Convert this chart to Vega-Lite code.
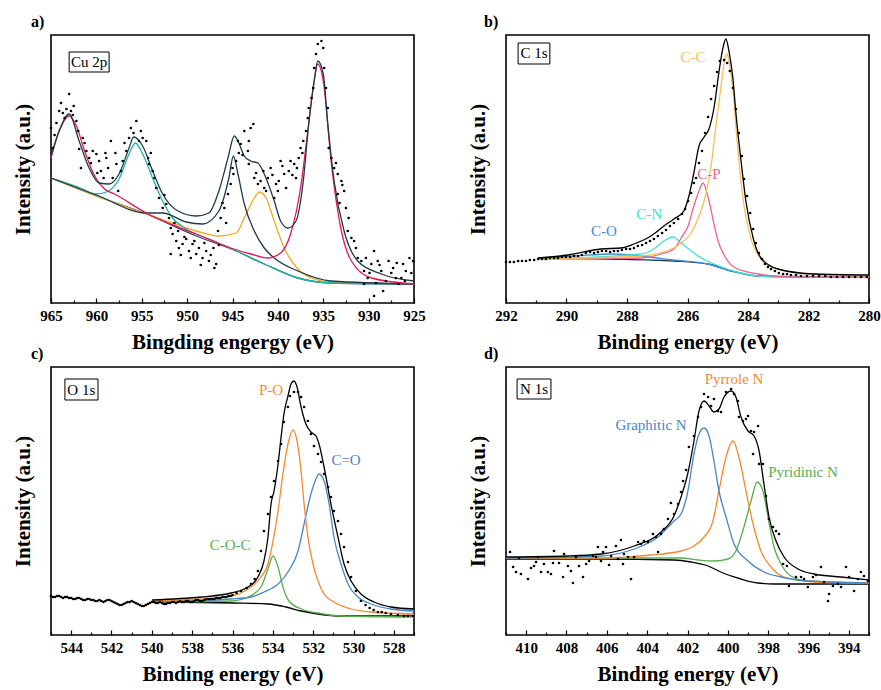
{
"$schema":"https://vega.github.io/schema/vega-lite/v6.json",
"padding":{"left":11,"top":13,"right":5,"bottom":5},
"config":{
 "font":"'Liberation Serif', 'Times New Roman', Times, 'DejaVu Serif', serif",
 "view":{"stroke":"black","strokeWidth":1.6},
 "axis":{"labelFont":"'Liberation Serif', 'Times New Roman', Times, 'DejaVu Serif', serif","labelFontWeight":"bold","labelFontSize":15,"labelColor":"black","titleFont":"'Liberation Serif', 'Times New Roman', Times, 'DejaVu Serif', serif","titleFontWeight":"bold","titleFontSize":21,"titleColor":"black","grid":false,"domain":false},
 "axisX":{"tickColor":"black","tickWidth":1.2,"labelPadding":10,"titlePadding":8,"labelFlush":false,"format":"d"},
 "axisY":{"labels":false,"ticks":false,"titlePadding":18},
 "title":{"font":"'Liberation Serif', 'Times New Roman', Times, 'DejaVu Serif', serif","fontSize":16,"fontWeight":"bold","anchor":"start","frame":"group","offset":5,"color":"black"},
 "line":{"strokeWidth":1.3,"interpolate":"monotone"},
 "point":{"filled":true,"size":7,"color":"black","opacity":1},
 "text":{"font":"'Liberation Serif', 'Times New Roman', Times, 'DejaVu Serif', serif","fontSize":15,"align":"center","baseline":"middle"}
},
"datasets":{
 "aLines":[
  {"c":"abg","x":965,"y":125},{"c":"abg","x":960,"y":107},{"c":"abg","x":954.5,"y":89},{"c":"abg","x":949,"y":67},{"c":"abg","x":944.6,"y":52},{"c":"abg","x":941.5,"y":39},{"c":"abg","x":937.8,"y":25},{"c":"abg","x":934.1,"y":20},{"c":"abg","x":925,"y":19},
  {"c":"aorange","x":965,"y":125},{"c":"aorange","x":960,"y":107},{"c":"aorange","x":954.5,"y":89},{"c":"aorange","x":952.9,"y":84},{"c":"aorange","x":949,"y":72},{"c":"aorange","x":946.5,"y":67},{"c":"aorange","x":944.6,"y":70},{"c":"aorange","x":943.7,"y":85},{"c":"aorange","x":942.6,"y":105},{"c":"aorange","x":942,"y":111},{"c":"aorange","x":941.3,"y":105},{"c":"aorange","x":940.4,"y":82},{"c":"aorange","x":939.3,"y":55},{"c":"aorange","x":937.8,"y":34},{"c":"aorange","x":936,"y":24},{"c":"aorange","x":934.1,"y":21},{"c":"aorange","x":925,"y":19},
  {"c":"ateal","x":965,"y":125},{"c":"ateal","x":962,"y":116},{"c":"ateal","x":960,"y":109},{"c":"ateal","x":958.9,"y":111},{"c":"ateal","x":957.5,"y":124},{"c":"ateal","x":956.4,"y":149},{"c":"ateal","x":955.7,"y":160},{"c":"ateal","x":954.9,"y":149},{"c":"ateal","x":953.8,"y":125},{"c":"ateal","x":952.7,"y":102},{"c":"ateal","x":951.6,"y":85},{"c":"ateal","x":950.1,"y":74},{"c":"ateal","x":947,"y":62},{"c":"ateal","x":944.6,"y":52},{"c":"ateal","x":941.5,"y":39},{"c":"ateal","x":937.8,"y":25},{"c":"ateal","x":934.1,"y":20},{"c":"ateal","x":925,"y":19},
  {"c":"adark","x":965,"y":125},{"c":"adark","x":960,"y":108},{"c":"adark","x":954.5,"y":90},{"c":"adark","x":952.7,"y":90},{"c":"adark","x":950.1,"y":81},{"c":"adark","x":948.3,"y":79},{"c":"adark","x":946.5,"y":92},{"c":"adark","x":945.4,"y":125},{"c":"adark","x":944.9,"y":147},{"c":"adark","x":944.4,"y":129},{"c":"adark","x":943.7,"y":99},{"c":"adark","x":942.6,"y":72},{"c":"adark","x":941.5,"y":55},{"c":"adark","x":940.4,"y":45},{"c":"adark","x":937.8,"y":32},{"c":"adark","x":934.1,"y":22},{"c":"adark","x":925,"y":19},
  {"c":"apink","x":965,"y":145},{"c":"apink","x":964.1,"y":172},{"c":"apink","x":963,"y":187},{"c":"apink","x":962.2,"y":177},{"c":"apink","x":961.3,"y":152},{"c":"apink","x":960.3,"y":129},{"c":"apink","x":959.1,"y":114},{"c":"apink","x":958,"y":109},{"c":"apink","x":954.5,"y":90},{"c":"apink","x":949,"y":69},{"c":"apink","x":945.2,"y":55},{"c":"apink","x":943,"y":49},{"c":"apink","x":941.1,"y":45},{"c":"apink","x":939.7,"y":50},{"c":"apink","x":938.6,"y":69},{"c":"apink","x":937.5,"y":115},{"c":"apink","x":936.7,"y":172},{"c":"apink","x":936,"y":222},{"c":"apink","x":935.6,"y":239},{"c":"apink","x":935,"y":222},{"c":"apink","x":934.1,"y":139},{"c":"apink","x":933,"y":72},{"c":"apink","x":931.9,"y":42},{"c":"apink","x":929.7,"y":25},{"c":"apink","x":925,"y":19},
  {"c":"aenv","x":965,"y":147},{"c":"aenv","x":964.1,"y":172},{"c":"aenv","x":963,"y":189},{"c":"aenv","x":961.9,"y":162},{"c":"aenv","x":960.8,"y":135},{"c":"aenv","x":959.7,"y":120},{"c":"aenv","x":958.6,"y":119},{"c":"aenv","x":957.5,"y":129},{"c":"aenv","x":956.4,"y":155},{"c":"aenv","x":955.9,"y":166},{"c":"aenv","x":954.9,"y":157},{"c":"aenv","x":953.8,"y":132},{"c":"aenv","x":952.7,"y":109},{"c":"aenv","x":951,"y":92},{"c":"aenv","x":949,"y":87},{"c":"aenv","x":947.6,"y":90},{"c":"aenv","x":946.5,"y":112},{"c":"aenv","x":945.5,"y":145},{"c":"aenv","x":944.8,"y":167},{"c":"aenv","x":944.4,"y":162},{"c":"aenv","x":943.7,"y":147},{"c":"aenv","x":943,"y":142},{"c":"aenv","x":942.2,"y":140},{"c":"aenv","x":941.5,"y":129},{"c":"aenv","x":940.4,"y":102},{"c":"aenv","x":939.7,"y":82},{"c":"aenv","x":938.9,"y":75},{"c":"aenv","x":938,"y":82},{"c":"aenv","x":937.2,"y":122},{"c":"aenv","x":936.6,"y":179},{"c":"aenv","x":936,"y":222},{"c":"aenv","x":935.6,"y":242},{"c":"aenv","x":935,"y":229},{"c":"aenv","x":934.5,"y":179},{"c":"aenv","x":933.8,"y":122},{"c":"aenv","x":932.7,"y":72},{"c":"aenv","x":931.2,"y":42},{"c":"aenv","x":928.6,"y":29},{"c":"aenv","x":925,"y":22}
 ],
 "aPts":[
  {"x":965.0,"y":175},{"x":964.8,"y":155},{"x":964.4,"y":180},{"x":964.1,"y":192},{"x":963.7,"y":190},{"x":963.3,"y":194},{"x":963.0,"y":209},{"x":962.8,"y":192},{"x":962.5,"y":197},{"x":962.2,"y":182},{"x":962.0,"y":172},{"x":961.9,"y":154},{"x":961.5,"y":165},{"x":961.1,"y":152},{"x":961.7,"y":135},{"x":960.8,"y":145},{"x":960.4,"y":152},{"x":960.0,"y":149},{"x":959.7,"y":142},{"x":959.5,"y":132},{"x":959.2,"y":125},{"x":958.9,"y":145},{"x":958.4,"y":162},{"x":958.2,"y":125},{"x":957.8,"y":139},{"x":957.6,"y":112},{"x":957.3,"y":132},{"x":957.1,"y":142},{"x":956.7,"y":152},{"x":956.4,"y":165},{"x":955.9,"y":170},{"x":955.6,"y":182},{"x":955.3,"y":162},{"x":954.9,"y":165},{"x":954.5,"y":162},{"x":954.3,"y":145},{"x":954.2,"y":139},{"x":953.8,"y":132},{"x":953.4,"y":115},{"x":953.1,"y":105},{"x":952.7,"y":95},{"x":952.3,"y":99},{"x":952.0,"y":85},{"x":951.8,"y":75},{"x":951.6,"y":69},{"x":951.2,"y":62},{"x":951.0,"y":72},{"x":951.8,"y":49},{"x":950.9,"y":55},{"x":950.5,"y":59},{"x":950.1,"y":64},{"x":949.8,"y":52},{"x":949.4,"y":59},{"x":949.0,"y":49},{"x":948.7,"y":55},{"x":948.3,"y":45},{"x":947.9,"y":52},{"x":947.6,"y":42},{"x":947.1,"y":55},{"x":946.8,"y":39},{"x":946.6,"y":72},{"x":946.3,"y":85},{"x":945.9,"y":95},{"x":945.5,"y":109},{"x":945.2,"y":119},{"x":944.9,"y":129},{"x":944.6,"y":142},{"x":944.4,"y":162},{"x":944.1,"y":159},{"x":943.7,"y":172},{"x":943.3,"y":152},{"x":943.2,"y":162},{"x":943.0,"y":175},{"x":942.7,"y":179},{"x":943.2,"y":139},{"x":942.6,"y":125},{"x":942.2,"y":119},{"x":941.9,"y":122},{"x":941.6,"y":132},{"x":941.5,"y":115},{"x":941.1,"y":125},{"x":940.8,"y":135},{"x":940.4,"y":105},{"x":940.2,"y":119},{"x":939.9,"y":122},{"x":939.7,"y":142},{"x":939.3,"y":129},{"x":939.1,"y":115},{"x":938.8,"y":132},{"x":938.6,"y":142},{"x":938.2,"y":139},{"x":938.0,"y":125},{"x":937.7,"y":145},{"x":937.5,"y":155},{"x":937.2,"y":162},{"x":936.9,"y":172},{"x":936.7,"y":185},{"x":936.6,"y":195},{"x":936.3,"y":205},{"x":936.1,"y":215},{"x":936.0,"y":235},{"x":935.8,"y":249},{"x":935.6,"y":259},{"x":935.2,"y":262},{"x":935.0,"y":255},{"x":934.9,"y":235},{"x":934.7,"y":215},{"x":934.5,"y":195},{"x":934.4,"y":155},{"x":934.1,"y":145},{"x":933.8,"y":135},{"x":933.4,"y":129},{"x":933.0,"y":122},{"x":933.4,"y":109},{"x":932.7,"y":112},{"x":932.5,"y":95},{"x":932.2,"y":85},{"x":932.3,"y":72},{"x":931.9,"y":65},{"x":931.6,"y":62},{"x":931.2,"y":45},{"x":930.8,"y":42},{"x":930.5,"y":32},{"x":930.1,"y":25},{"x":929.7,"y":39},{"x":929.4,"y":52},{"x":929.0,"y":42},{"x":928.6,"y":32},{"x":928.4,"y":12},{"x":928.1,"y":22},{"x":927.8,"y":42},{"x":927.3,"y":35},{"x":927.0,"y":25},{"x":926.7,"y":19},{"x":926.2,"y":39},{"x":925.9,"y":32},{"x":925.5,"y":45},{"x":925.1,"y":42},{"x":926.4,"y":25},{"x":929.4,"y":7},{"x":930.5,"y":19},
  {"x":964.6,"y":168},{"x":963.9,"y":200},{"x":963.5,"y":185},{"x":962.6,"y":188},{"x":961.3,"y":160},{"x":960.6,"y":140},{"x":959.9,"y":130},{"x":959.0,"y":150},{"x":958.7,"y":135},{"x":957.9,"y":150},{"x":956.9,"y":160},{"x":956.2,"y":175},{"x":955.1,"y":172},{"x":954.0,"y":150},{"x":953.6,"y":125},{"x":952.5,"y":108},{"x":951.4,"y":80},{"x":950.7,"y":48},{"x":950.3,"y":66},{"x":949.6,"y":45},{"x":949.2,"y":62},{"x":948.5,"y":38},{"x":948.1,"y":60},{"x":947.4,"y":48},{"x":947.0,"y":35},{"x":946.5,"y":58},{"x":946.1,"y":100},{"x":945.7,"y":80},{"x":945.0,"y":135},{"x":944.3,"y":150},{"x":943.9,"y":148},{"x":942.4,"y":130},{"x":941.3,"y":112},{"x":940.6,"y":128},{"x":940.0,"y":112},{"x":939.5,"y":137},{"x":938.4,"y":128},{"x":937.9,"y":135},{"x":937.3,"y":150},{"x":933.6,"y":140},{"x":933.2,"y":100},{"x":932.9,"y":118},{"x":931.4,"y":55},{"x":930.3,"y":45},{"x":929.9,"y":30},{"x":929.2,"y":20},{"x":928.8,"y":38},{"x":927.5,"y":30},{"x":926.9,"y":40},{"x":926.0,"y":22},{"x":925.3,"y":30}
 ],
 "bLines":[
  {"c":"bbg","x":290.94,"y":45},{"c":"bbg","x":288.63,"y":44},{"c":"bbg","x":286.45,"y":42},{"c":"bbg","x":285.32,"y":39},{"c":"bbg","x":284.56,"y":32},{"c":"bbg","x":283.67,"y":27},{"c":"bbg","x":282.02,"y":26},{"c":"bbg","x":280,"y":26},
  {"c":"bCO","x":290.94,"y":45},{"c":"bCO","x":289.75,"y":47},{"c":"bCO","x":288.43,"y":49},{"c":"bCO","x":287.31,"y":46},{"c":"bCO","x":286.45,"y":43},{"c":"bCO","x":285.32,"y":39},{"c":"bCO","x":284.56,"y":32},{"c":"bCO","x":283.67,"y":27},{"c":"bCO","x":280,"y":26},
  {"c":"bCN","x":290.94,"y":44},{"c":"bCN","x":287.54,"y":49},{"c":"bCN","x":287.11,"y":54},{"c":"bCN","x":286.78,"y":62},{"c":"bCN","x":286.48,"y":66},{"c":"bCN","x":286.21,"y":60},{"c":"bCN","x":285.88,"y":52},{"c":"bCN","x":285.65,"y":47},{"c":"bCN","x":285.12,"y":39},{"c":"bCN","x":284.23,"y":30},{"c":"bCN","x":283.14,"y":26},{"c":"bCN","x":280,"y":26},
  {"c":"bCP","x":290.94,"y":44},{"c":"bCP","x":287.54,"y":45},{"c":"bCP","x":286.88,"y":49},{"c":"bCP","x":286.45,"y":54},{"c":"bCP","x":286.21,"y":65},{"c":"bCP","x":285.98,"y":77},{"c":"bCP","x":285.79,"y":97},{"c":"bCP","x":285.62,"y":112},{"c":"bCP","x":285.49,"y":120},{"c":"bCP","x":285.32,"y":106},{"c":"bCP","x":285.16,"y":84},{"c":"bCP","x":284.99,"y":62},{"c":"bCP","x":284.79,"y":48},{"c":"bCP","x":284.47,"y":36},{"c":"bCP","x":283.67,"y":29},{"c":"bCP","x":282.58,"y":26},{"c":"bCP","x":280,"y":26},
  {"c":"bCC","x":290.94,"y":44},{"c":"bCC","x":287.54,"y":47},{"c":"bCC","x":286.45,"y":55},{"c":"bCC","x":286.21,"y":60},{"c":"bCC","x":285.88,"y":70},{"c":"bCC","x":285.62,"y":87},{"c":"bCC","x":285.45,"y":102},{"c":"bCC","x":285.22,"y":137},{"c":"bCC","x":285.06,"y":177},{"c":"bCC","x":284.89,"y":217},{"c":"bCC","x":284.76,"y":245},{"c":"bCC","x":284.69,"y":249},{"c":"bCC","x":284.63,"y":242},{"c":"bCC","x":284.5,"y":214},{"c":"bCC","x":284.4,"y":177},{"c":"bCC","x":284.3,"y":142},{"c":"bCC","x":284.13,"y":97},{"c":"bCC","x":283.9,"y":64},{"c":"bCC","x":283.57,"y":44},{"c":"bCC","x":283.14,"y":35},{"c":"bCC","x":282.25,"y":30},{"c":"bCC","x":280,"y":27},
  {"c":"benv","x":290.94,"y":45},{"c":"benv","x":289.95,"y":48},{"c":"benv","x":288.86,"y":54},{"c":"benv","x":288.2,"y":55},{"c":"benv","x":287.77,"y":59},{"c":"benv","x":287.21,"y":67},{"c":"benv","x":286.78,"y":77},{"c":"benv","x":286.45,"y":84},{"c":"benv","x":286.12,"y":92},{"c":"benv","x":285.98,"y":104},{"c":"benv","x":285.79,"y":130},{"c":"benv","x":285.62,"y":157},{"c":"benv","x":285.45,"y":166},{"c":"benv","x":285.29,"y":174},{"c":"benv","x":285.12,"y":196},{"c":"benv","x":284.96,"y":231},{"c":"benv","x":284.83,"y":255},{"c":"benv","x":284.73,"y":264},{"c":"benv","x":284.63,"y":252},{"c":"benv","x":284.5,"y":225},{"c":"benv","x":284.4,"y":190},{"c":"benv","x":284.23,"y":142},{"c":"benv","x":284.07,"y":102},{"c":"benv","x":283.83,"y":65},{"c":"benv","x":283.57,"y":45},{"c":"benv","x":283.01,"y":34},{"c":"benv","x":281.82,"y":29},{"c":"benv","x":280,"y":28}
 ],
 "bPts":[
  {"x":292.00,"y":41},{"x":291.87,"y":41},{"x":291.74,"y":41},{"x":291.60,"y":42},{"x":291.47,"y":42},{"x":291.34,"y":42},{"x":291.21,"y":43},{"x":291.07,"y":43},{"x":290.94,"y":44},{"x":290.81,"y":44},{"x":290.68,"y":44},{"x":290.55,"y":45},{"x":290.41,"y":45},{"x":290.28,"y":45},{"x":290.15,"y":46},{"x":290.02,"y":46},{"x":289.88,"y":46},{"x":289.75,"y":47},{"x":289.62,"y":47},{"x":289.49,"y":48},{"x":289.36,"y":50},{"x":289.22,"y":51},{"x":289.09,"y":50},{"x":288.96,"y":51},{"x":288.83,"y":52},{"x":288.69,"y":52},{"x":288.56,"y":51},{"x":288.43,"y":52},{"x":288.30,"y":52},{"x":288.17,"y":53},{"x":288.03,"y":54},{"x":287.90,"y":54},{"x":287.77,"y":55},{"x":287.64,"y":57},{"x":287.50,"y":58},{"x":287.37,"y":60},{"x":287.24,"y":62},{"x":287.11,"y":64},{"x":286.98,"y":67},{"x":286.84,"y":70},{"x":286.71,"y":73},{"x":286.58,"y":77},{"x":286.45,"y":80},{"x":286.31,"y":84},{"x":286.18,"y":89},{"x":286.08,"y":94},{"x":285.98,"y":102},{"x":285.88,"y":110},{"x":285.79,"y":120},{"x":285.72,"y":125},{"x":285.62,"y":140},{"x":285.52,"y":152},{"x":285.42,"y":170},{"x":285.32,"y":186},{"x":285.22,"y":204},{"x":285.12,"y":217},{"x":285.02,"y":231},{"x":284.93,"y":242},{"x":284.79,"y":243},{"x":284.69,"y":240},{"x":284.60,"y":232},{"x":284.50,"y":215},{"x":284.40,"y":194},{"x":284.30,"y":170},{"x":284.20,"y":147},{"x":284.13,"y":124},{"x":284.03,"y":107},{"x":283.93,"y":90},{"x":283.83,"y":74},{"x":283.74,"y":60},{"x":283.64,"y":50},{"x":283.54,"y":44},{"x":283.44,"y":39},{"x":283.34,"y":36},{"x":283.24,"y":34},{"x":283.11,"y":32},{"x":282.98,"y":30},{"x":282.84,"y":29},{"x":282.71,"y":29},{"x":282.58,"y":28},{"x":282.41,"y":28},{"x":282.25,"y":27},{"x":282.05,"y":27},{"x":281.85,"y":27},{"x":281.65,"y":27},{"x":281.45,"y":27},{"x":281.26,"y":26},{"x":281.06,"y":26},{"x":280.86,"y":26},{"x":280.66,"y":26},{"x":280.46,"y":26},{"x":280.26,"y":26},{"x":280.07,"y":26}
 ],
 "cLines":[
  {"c":"cbg","x":539.99,"y":33},{"c":"cbg","x":535.93,"y":32},{"c":"cbg","x":534.24,"y":31},{"c":"cbg","x":533.35,"y":28},{"c":"cbg","x":532.6,"y":24},{"c":"cbg","x":531.76,"y":21},{"c":"cbg","x":530.62,"y":19},{"c":"cbg","x":527,"y":19},
  {"c":"cCOC","x":539.99,"y":33},{"c":"cCOC","x":536.07,"y":34},{"c":"cCOC","x":535.23,"y":38},{"c":"cCOC","x":534.59,"y":48},{"c":"cCOC","x":534.24,"y":66},{"c":"cCOC","x":533.99,"y":79},{"c":"cCOC","x":533.74,"y":68},{"c":"cCOC","x":533.5,"y":48},{"c":"cCOC","x":533.2,"y":34},{"c":"cCOC","x":532.6,"y":26},{"c":"cCOC","x":531.76,"y":22},{"c":"cCOC","x":530.62,"y":19},{"c":"cCOC","x":527,"y":18},
  {"c":"cCO","x":539.99,"y":33},{"c":"cCO","x":536.07,"y":36},{"c":"cCO","x":535.08,"y":38},{"c":"cCO","x":534.44,"y":43},{"c":"cCO","x":533.74,"y":51},{"c":"cCO","x":533.25,"y":63},{"c":"cCO","x":532.75,"y":84},{"c":"cCO","x":532.45,"y":111},{"c":"cCO","x":532.11,"y":141},{"c":"cCO","x":531.86,"y":156},{"c":"cCO","x":531.71,"y":161},{"c":"cCO","x":531.46,"y":154},{"c":"cCO","x":531.21,"y":131},{"c":"cCO","x":530.97,"y":98},{"c":"cCO","x":530.62,"y":71},{"c":"cCO","x":530.22,"y":49},{"c":"cCO","x":529.78,"y":38},{"c":"cCO","x":529.13,"y":31},{"c":"cCO","x":528.14,"y":26},{"c":"cCO","x":527,"y":24},
  {"c":"cPO","x":539.99,"y":34},{"c":"cPO","x":537.56,"y":36},{"c":"cPO","x":536.07,"y":39},{"c":"cPO","x":535.23,"y":46},{"c":"cPO","x":534.59,"y":58},{"c":"cPO","x":534.24,"y":71},{"c":"cPO","x":533.99,"y":94},{"c":"cPO","x":533.74,"y":124},{"c":"cPO","x":533.5,"y":161},{"c":"cPO","x":533.25,"y":191},{"c":"cPO","x":533.0,"y":205},{"c":"cPO","x":532.8,"y":194},{"c":"cPO","x":532.6,"y":164},{"c":"cPO","x":532.45,"y":131},{"c":"cPO","x":532.26,"y":98},{"c":"cPO","x":532.01,"y":71},{"c":"cPO","x":531.76,"y":54},{"c":"cPO","x":531.46,"y":41},{"c":"cPO","x":530.97,"y":33},{"c":"cPO","x":530.12,"y":26},{"c":"cPO","x":529.13,"y":23},{"c":"cPO","x":527,"y":21},
  {"c":"cenv","x":539.99,"y":35},{"c":"cenv","x":537.56,"y":38},{"c":"cenv","x":536.07,"y":42},{"c":"cenv","x":535.23,"y":48},{"c":"cenv","x":534.74,"y":58},{"c":"cenv","x":534.44,"y":74},{"c":"cenv","x":534.24,"y":98},{"c":"cenv","x":534.09,"y":131},{"c":"cenv","x":533.94,"y":144},{"c":"cenv","x":533.74,"y":171},{"c":"cenv","x":533.59,"y":198},{"c":"cenv","x":533.45,"y":221},{"c":"cenv","x":533.25,"y":239},{"c":"cenv","x":533.1,"y":251},{"c":"cenv","x":532.95,"y":254},{"c":"cenv","x":532.8,"y":248},{"c":"cenv","x":532.6,"y":228},{"c":"cenv","x":532.36,"y":211},{"c":"cenv","x":532.11,"y":203},{"c":"cenv","x":531.86,"y":199},{"c":"cenv","x":531.71,"y":191},{"c":"cenv","x":531.46,"y":168},{"c":"cenv","x":531.12,"y":131},{"c":"cenv","x":530.77,"y":98},{"c":"cenv","x":530.47,"y":71},{"c":"cenv","x":530.12,"y":54},{"c":"cenv","x":529.63,"y":41},{"c":"cenv","x":528.98,"y":33},{"c":"cenv","x":528.14,"y":28},{"c":"cenv","x":527,"y":26}
 ],
 "cPts":[
  {"x":545.0,"y":39},{"x":544.8,"y":38},{"x":544.6,"y":39},{"x":544.4,"y":37},{"x":544.2,"y":38},{"x":544.0,"y":37},{"x":543.8,"y":36},{"x":543.6,"y":37},{"x":543.4,"y":35},{"x":543.2,"y":36},{"x":543.0,"y":35},{"x":542.8,"y":34},{"x":542.6,"y":35},{"x":542.4,"y":33},{"x":542.2,"y":35},{"x":542.0,"y":34},{"x":541.8,"y":32},{"x":541.6,"y":30},{"x":541.4,"y":31},{"x":541.2,"y":33},{"x":541.0,"y":34},{"x":540.8,"y":32},{"x":540.6,"y":30},{"x":540.4,"y":29},{"x":540.2,"y":31},{"x":540.0,"y":33},{"x":539.8,"y":32},{"x":539.6,"y":33},{"x":539.4,"y":31},{"x":539.2,"y":32},{"x":539.0,"y":33},{"x":538.8,"y":32},{"x":538.6,"y":34},{"x":538.4,"y":33},{"x":538.2,"y":34},{"x":538.0,"y":33},{"x":537.8,"y":35},{"x":537.6,"y":34},{"x":537.4,"y":35},{"x":537.2,"y":36},{"x":537.0,"y":36},{"x":536.8,"y":37},{"x":536.6,"y":37},{"x":536.4,"y":38},{"x":536.2,"y":39},{"x":536.0,"y":40},
  {"x":544.9,"y":38},{"x":544.7,"y":39},{"x":544.5,"y":38},{"x":544.3,"y":38},{"x":544.1,"y":37},{"x":543.9,"y":36},{"x":543.7,"y":37},{"x":543.5,"y":36},{"x":543.3,"y":35},{"x":543.1,"y":36},{"x":542.9,"y":35},{"x":542.7,"y":34},{"x":542.5,"y":34},{"x":542.3,"y":34},{"x":542.1,"y":35},{"x":541.9,"y":33},{"x":541.7,"y":31},{"x":541.5,"y":30},{"x":541.3,"y":32},{"x":541.1,"y":33},{"x":540.9,"y":33},{"x":540.7,"y":31},{"x":540.5,"y":29},{"x":540.3,"y":30},{"x":540.1,"y":32},{"x":539.9,"y":33},{"x":539.7,"y":32},{"x":539.5,"y":32},{"x":539.3,"y":31},{"x":539.1,"y":32},{"x":538.9,"y":33},{"x":538.7,"y":33},{"x":538.5,"y":33},{"x":538.3,"y":34},{"x":538.1,"y":33},{"x":537.9,"y":34},{"x":537.7,"y":35},{"x":537.5,"y":34},{"x":537.3,"y":36},{"x":537.1,"y":36},{"x":536.9,"y":36},{"x":536.7,"y":37},{"x":536.5,"y":38},{"x":536.3,"y":38},{"x":536.1,"y":39},
  {"x":535.8,"y":42},{"x":535.58,"y":44},{"x":535.3,"y":47},{"x":535.08,"y":51},{"x":534.9,"y":56},{"x":534.74,"y":64},{"x":534.59,"y":84},{"x":534.44,"y":104},{"x":534.24,"y":121},{"x":534.09,"y":138},{"x":533.94,"y":154},{"x":533.74,"y":174},{"x":533.59,"y":191},{"x":533.45,"y":213},{"x":533.25,"y":228},{"x":533.15,"y":239},{"x":532.95,"y":243},{"x":532.75,"y":243},{"x":532.6,"y":238},{"x":532.45,"y":228},{"x":532.26,"y":214},{"x":532.11,"y":201},{"x":531.96,"y":189},{"x":531.76,"y":181},{"x":531.61,"y":173},{"x":531.46,"y":161},{"x":531.26,"y":148},{"x":531.12,"y":138},{"x":530.97,"y":124},{"x":530.77,"y":114},{"x":530.62,"y":101},{"x":530.47,"y":88},{"x":530.27,"y":73},{"x":530.12,"y":58},{"x":529.88,"y":44},{"x":529.63,"y":34},{"x":529.4,"y":30},{"x":529.2,"y":27},{"x":529.0,"y":25},{"x":528.79,"y":23},{"x":528.6,"y":23},{"x":528.4,"y":22},{"x":528.14,"y":21},{"x":527.8,"y":20},{"x":527.5,"y":19},{"x":527.3,"y":19},{"x":527.05,"y":19}
 ],
 "dLines":[
  {"c":"dbg","x":411,"y":76},{"c":"dbg","x":406.29,"y":76},{"c":"dbg","x":402.67,"y":75},{"c":"dbg","x":401.83,"y":73},{"c":"dbg","x":400.98,"y":69},{"c":"dbg","x":400.24,"y":62},{"c":"dbg","x":399.35,"y":56},{"c":"dbg","x":398.5,"y":52},{"c":"dbg","x":397.71,"y":51},{"c":"dbg","x":393,"y":51},
  {"c":"dPy","x":411,"y":77},{"c":"dPy","x":402.32,"y":77},{"c":"dPy","x":401.48,"y":75},{"c":"dPy","x":400.69,"y":74},{"c":"dPy","x":399.99,"y":76},{"c":"dPy","x":399.6,"y":84},{"c":"dPy","x":399.2,"y":108},{"c":"dPy","x":398.85,"y":134},{"c":"dPy","x":398.55,"y":153},{"c":"dPy","x":398.26,"y":144},{"c":"dPy","x":398.01,"y":118},{"c":"dPy","x":397.71,"y":88},{"c":"dPy","x":397.36,"y":71},{"c":"dPy","x":396.87,"y":59},{"c":"dPy","x":396.03,"y":54},{"c":"dPy","x":393,"y":52},
  {"c":"dPr","x":411,"y":77},{"c":"dPr","x":406.29,"y":77},{"c":"dPr","x":403.81,"y":80},{"c":"dPr","x":402.32,"y":84},{"c":"dPr","x":401.68,"y":89},{"c":"dPr","x":401.18,"y":98},{"c":"dPr","x":400.74,"y":114},{"c":"dPr","x":400.44,"y":144},{"c":"dPr","x":400.09,"y":178},{"c":"dPr","x":399.74,"y":194},{"c":"dPr","x":399.45,"y":178},{"c":"dPr","x":399.1,"y":144},{"c":"dPr","x":398.75,"y":111},{"c":"dPr","x":398.36,"y":84},{"c":"dPr","x":397.86,"y":68},{"c":"dPr","x":397.21,"y":58},{"c":"dPr","x":395.73,"y":53},{"c":"dPr","x":393,"y":52},
  {"c":"dGr","x":411,"y":77},{"c":"dGr","x":406.29,"y":79},{"c":"dGr","x":404.65,"y":86},{"c":"dGr","x":403.46,"y":98},{"c":"dGr","x":402.67,"y":114},{"c":"dGr","x":402.32,"y":121},{"c":"dGr","x":401.98,"y":144},{"c":"dGr","x":401.68,"y":181},{"c":"dGr","x":401.43,"y":201},{"c":"dGr","x":401.18,"y":207},{"c":"dGr","x":400.93,"y":199},{"c":"dGr","x":400.69,"y":174},{"c":"dGr","x":400.44,"y":144},{"c":"dGr","x":400.09,"y":118},{"c":"dGr","x":399.69,"y":91},{"c":"dGr","x":399.0,"y":74},{"c":"dGr","x":398.21,"y":63},{"c":"dGr","x":397.36,"y":58},{"c":"dGr","x":396.52,"y":55},{"c":"dGr","x":394.88,"y":53},{"c":"dGr","x":393,"y":52},
  {"c":"denv","x":411,"y":78},{"c":"denv","x":407.93,"y":79},{"c":"denv","x":406.29,"y":81},{"c":"denv","x":404.65,"y":89},{"c":"denv","x":403.31,"y":103},{"c":"denv","x":402.67,"y":119},{"c":"denv","x":402.32,"y":138},{"c":"denv","x":401.98,"y":162},{"c":"denv","x":401.68,"y":194},{"c":"denv","x":401.43,"y":224},{"c":"denv","x":401.18,"y":234},{"c":"denv","x":400.93,"y":229},{"c":"denv","x":400.69,"y":223},{"c":"denv","x":400.44,"y":226},{"c":"denv","x":400.19,"y":238},{"c":"denv","x":399.84,"y":244},{"c":"denv","x":399.6,"y":238},{"c":"denv","x":399.35,"y":218},{"c":"denv","x":399.0,"y":204},{"c":"denv","x":398.7,"y":199},{"c":"denv","x":398.45,"y":184},{"c":"denv","x":398.21,"y":151},{"c":"denv","x":397.96,"y":118},{"c":"denv","x":397.61,"y":94},{"c":"denv","x":397.21,"y":78},{"c":"denv","x":396.52,"y":66},{"c":"denv","x":395.73,"y":61},{"c":"denv","x":394.39,"y":58},{"c":"denv","x":393,"y":55}
 ],
 "dPts":[
  {"x":410.8,"y":83},{"x":410.65,"y":68},{"x":410.5,"y":63},{"x":410.36,"y":77},{"x":410.26,"y":61},{"x":409.91,"y":56},{"x":409.76,"y":67},{"x":409.61,"y":69},{"x":409.51,"y":73},{"x":409.41,"y":78},{"x":409.26,"y":63},{"x":409.12,"y":71},{"x":408.92,"y":63},{"x":408.77,"y":61},{"x":408.67,"y":72},{"x":408.62,"y":84},{"x":408.37,"y":72},{"x":408.17,"y":58},{"x":408.12,"y":81},{"x":407.93,"y":69},{"x":407.78,"y":64},{"x":407.68,"y":52},{"x":407.53,"y":78},{"x":407.38,"y":69},{"x":407.18,"y":58},{"x":407.03,"y":71},{"x":406.88,"y":74},{"x":406.69,"y":79},{"x":406.54,"y":78},{"x":406.44,"y":88},{"x":406.29,"y":74},{"x":406.19,"y":83},{"x":406.04,"y":88},{"x":405.89,"y":70},{"x":405.79,"y":79},{"x":405.55,"y":89},{"x":405.45,"y":76},{"x":405.3,"y":95},{"x":405.2,"y":71},{"x":405.15,"y":81},{"x":404.95,"y":78},{"x":404.8,"y":56},{"x":404.65,"y":78},{"x":404.45,"y":93},{"x":404.31,"y":91},{"x":404.16,"y":94},{"x":403.96,"y":93},{"x":403.71,"y":101},{"x":403.56,"y":98},{"x":403.46,"y":83},{"x":403.31,"y":101},{"x":403.17,"y":106},{"x":402.97,"y":116},{"x":402.82,"y":132},{"x":402.67,"y":121},{"x":402.47,"y":131},{"x":402.32,"y":143},{"x":402.22,"y":154},{"x":402.07,"y":165},{"x":401.93,"y":188},{"x":401.68,"y":199},{"x":401.48,"y":218},{"x":401.33,"y":228},{"x":401.18,"y":241},{"x":400.98,"y":238},{"x":400.83,"y":229},{"x":400.69,"y":236},{"x":400.49,"y":224},{"x":400.34,"y":223},{"x":400.09,"y":243},{"x":399.84,"y":246},{"x":399.69,"y":241},{"x":399.5,"y":234},{"x":399.45,"y":218},{"x":399.25,"y":214},{"x":399.1,"y":216},{"x":399.0,"y":219},{"x":398.85,"y":204},{"x":398.75,"y":181},{"x":398.7,"y":203},{"x":398.5,"y":209},{"x":398.45,"y":171},{"x":398.26,"y":171},{"x":398.11,"y":139},{"x":397.96,"y":116},{"x":397.76,"y":108},{"x":397.61,"y":104},{"x":397.46,"y":101},{"x":397.26,"y":71},{"x":397.07,"y":69},{"x":396.97,"y":49},{"x":396.62,"y":58},{"x":396.37,"y":58},{"x":396.22,"y":56},{"x":396.03,"y":48},{"x":395.78,"y":58},{"x":395.63,"y":60},{"x":395.38,"y":68},{"x":395.23,"y":53},{"x":395.03,"y":34},{"x":394.98,"y":41},{"x":394.79,"y":49},{"x":394.54,"y":51},{"x":394.39,"y":48},{"x":394.14,"y":68},{"x":393.99,"y":58},{"x":393.74,"y":44},{"x":393.55,"y":56},{"x":393.4,"y":63},{"x":393.25,"y":59},{"x":393.05,"y":54}
 ]
},
"concat":[
 {
  "width":363,"height":268,
  "title":{"text":"a)","dx":-20},
  "encoding":{
   "x":{"field":"x","type":"quantitative","scale":{"domain":[925,965],"reverse":true,"nice":false,"zero":false},
        "axis":{"title":"Bingding engergy (eV)","values":[965,962.5,960,957.5,955,952.5,950,947.5,945,942.5,940,937.5,935,932.5,930,927.5,925],"labelExpr":"datum.value % 5 === 0 ? datum.label : ''","tickSize":{"condition":{"test":"datum.value % 5 === 0","value":-5},"value":-3}}},
   "y":{"field":"y","type":"quantitative","scale":{"domain":[0,268],"nice":false},"axis":{"title":"Intensity (a.u.)"}}
  },
  "layer":[
   {"data":{"name":"aLines"},"mark":{"type":"line"},"encoding":{"color":{"field":"c","type":"nominal","scale":{"domain":["abg","aorange","ateal","adark","apink","aenv"],"range":["#4a3f66","#F2A81D","#1DB3A6","#1E3B4E","#E5175C","#1E3B4E"]},"legend":null}}},
   {"data":{"name":"aPts"},"mark":{"type":"point"}},
   {"data":{"values":[{"x":963.0,"x2":958.6,"y":251,"y2":231}]},"mark":{"type":"rect","fill":"black","xOffset":3,"yOffset":3},"encoding":{"x2":{"field":"x2"},"y2":{"field":"y2"}}},
   {"data":{"values":[{"x":963.0,"x2":958.6,"y":251,"y2":231}]},"mark":{"type":"rect","fill":"white","stroke":"black","strokeWidth":1},"encoding":{"x2":{"field":"x2"},"y2":{"field":"y2"}}},
   {"data":{"values":[{"x":960.8,"y":241,"t":"Cu 2p"}]},"mark":{"type":"text","color":"black"},"encoding":{"text":{"field":"t"}}}
  ]
 },
 {
  "width":363,"height":268,
  "title":{"text":"b)","dx":-22},
  "encoding":{
   "x":{"field":"x","type":"quantitative","scale":{"domain":[280,292],"reverse":true,"nice":false,"zero":false},
        "axis":{"title":"Binding energy (eV)","values":[292,291,290,289,288,287,286,285,284,283,282,281,280],"labelExpr":"datum.value % 2 === 0 ? datum.label : ''","tickSize":{"condition":{"test":"datum.value % 2 === 0","value":-5},"value":-3}}},
   "y":{"field":"y","type":"quantitative","scale":{"domain":[0,268],"nice":false},"axis":{"title":"Intensity (a.u.)"}}
  },
  "layer":[
   {"data":{"name":"bLines"},"mark":{"type":"line"},"encoding":{"color":{"field":"c","type":"nominal","scale":{"domain":["bbg","bCO","bCN","bCP","bCC","benv"],"range":["#1B2F4A","#3B8FD8","#3FE0D6","#F0628F","#F6BE58","#000000"]},"legend":null}}},
   {"data":{"name":"bPts"},"mark":{"type":"point"}},
   {"data":{"values":[{"x":285.82,"y":246,"t":"C-C","c":"bCC"},{"x":285.29,"y":129,"t":"C-P","c":"bCP"},{"x":287.27,"y":89,"t":"C-N","c":"bCN"},{"x":288.76,"y":72,"t":"C-O","c":"bCO"}]},"mark":{"type":"text"},"encoding":{"text":{"field":"t"},"color":{"field":"c","type":"nominal","legend":null}}},
   {"data":{"values":[{"x":291.6,"x2":290.55,"y":260,"y2":239}]},"mark":{"type":"rect","fill":"black","xOffset":3,"yOffset":3},"encoding":{"x2":{"field":"x2"},"y2":{"field":"y2"}}},
   {"data":{"values":[{"x":291.6,"x2":290.55,"y":260,"y2":239}]},"mark":{"type":"rect","fill":"white","stroke":"black","strokeWidth":1},"encoding":{"x2":{"field":"x2"},"y2":{"field":"y2"}}},
   {"data":{"values":[{"x":291.07,"y":250,"t":"C 1s"}]},"mark":{"type":"text","color":"black"},"encoding":{"text":{"field":"t"}}}
  ]
 },
 {
  "width":363,"height":268,
  "title":{"text":"c)","dx":-20},
  "encoding":{
   "x":{"field":"x","type":"quantitative","scale":{"domain":[527,545],"reverse":true,"nice":false,"zero":false},
        "axis":{"title":"Binding energy (eV)","values":[545,544,543,542,541,540,539,538,537,536,535,534,533,532,531,530,529,528,527],"labelExpr":"datum.value % 2 === 0 ? datum.label : ''","tickSize":{"condition":{"test":"datum.value % 2 === 0","value":-5},"value":-3}}},
   "y":{"field":"y","type":"quantitative","scale":{"domain":[0,268],"nice":false},"axis":{"title":"Intensity (a.u.)"}}
  },
  "layer":[
   {"data":{"name":"cLines"},"mark":{"type":"line"},"encoding":{"color":{"field":"c","type":"nominal","scale":{"domain":["cbg","cCOC","cCO","cPO","cenv"],"range":["#000000","#58AE4C","#4A86C8","#F5892E","#000000"]},"legend":null}}},
   {"data":{"name":"cPts"},"mark":{"type":"point"}},
   {"data":{"values":[{"x":534.09,"y":245,"t":"P-O","c":"cPO"},{"x":530.37,"y":175,"t":"C=O","c":"cCO"},{"x":536.12,"y":90,"t":"C-O-C","c":"cCOC"}]},"mark":{"type":"text"},"encoding":{"text":{"field":"t"},"color":{"field":"c","type":"nominal","legend":null}}},
   {"data":{"values":[{"x":544.31,"x2":542.67,"y":256,"y2":235}]},"mark":{"type":"rect","fill":"black","xOffset":3,"yOffset":3},"encoding":{"x2":{"field":"x2"},"y2":{"field":"y2"}}},
   {"data":{"values":[{"x":544.31,"x2":542.67,"y":256,"y2":235}]},"mark":{"type":"rect","fill":"white","stroke":"black","strokeWidth":1},"encoding":{"x2":{"field":"x2"},"y2":{"field":"y2"}}},
   {"data":{"values":[{"x":543.5,"y":245,"t":"O 1s"}]},"mark":{"type":"text","color":"black"},"encoding":{"text":{"field":"t"}}}
  ]
 },
 {
  "width":363,"height":268,
  "title":{"text":"d)","dx":-22},
  "encoding":{
   "x":{"field":"x","type":"quantitative","scale":{"domain":[393,411],"reverse":true,"nice":false,"zero":false},
        "axis":{"title":"Binding energy (eV)","values":[411,410,409,408,407,406,405,404,403,402,401,400,399,398,397,396,395,394,393],"labelExpr":"datum.value % 2 === 0 ? datum.label : ''","tickSize":{"condition":{"test":"datum.value % 2 === 0","value":-5},"value":-3}}},
   "y":{"field":"y","type":"quantitative","scale":{"domain":[0,268],"nice":false},"axis":{"title":"Intensity (a.u.)"}}
  },
  "layer":[
   {"data":{"name":"dLines"},"mark":{"type":"line"},"encoding":{"color":{"field":"c","type":"nominal","scale":{"domain":["dbg","dPy","dPr","dGr","denv"],"range":["#000000","#58AE4C","#F5892E","#4A86C8","#000000"]},"legend":null}}},
   {"data":{"name":"dPts"},"mark":{"type":"point"}},
   {"data":{"values":[{"x":399.69,"y":256,"t":"Pyrrole N","c":"dPr"},{"x":403.81,"y":210,"t":"Graphitic N","c":"dGr"},{"x":396.27,"y":163,"t":"Pyridinic N","c":"dPy"}]},"mark":{"type":"text"},"encoding":{"text":{"field":"t"},"color":{"field":"c","type":"nominal","legend":null}}},
   {"data":{"values":[{"x":410.45,"x2":408.77,"y":256,"y2":236}]},"mark":{"type":"rect","fill":"black","xOffset":3,"yOffset":3},"encoding":{"x2":{"field":"x2"},"y2":{"field":"y2"}}},
   {"data":{"values":[{"x":410.45,"x2":408.77,"y":256,"y2":236}]},"mark":{"type":"rect","fill":"white","stroke":"black","strokeWidth":1},"encoding":{"x2":{"field":"x2"},"y2":{"field":"y2"}}},
   {"data":{"values":[{"x":409.61,"y":246,"t":"N 1s"}]},"mark":{"type":"text","color":"black"},"encoding":{"text":{"field":"t"}}}
  ]
 }
],
"columns":2,
"spacing":{"row":64,"column":92},
"bounds":"flush",
"resolve":{"scale":{"x":"independent","y":"independent","color":"independent"}}
}
